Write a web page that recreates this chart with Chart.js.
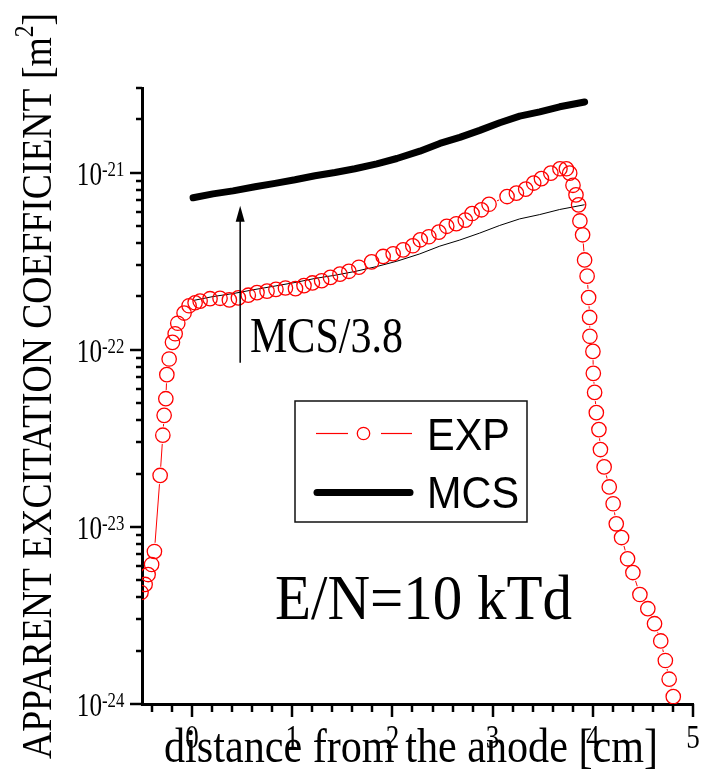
<!DOCTYPE html>
<html>
<head>
<meta charset="utf-8">
<script src="https://cdn.jsdelivr.net/npm/chart.js@4.4.0/dist/chart.umd.min.js"></script>
<style>
  html, body { margin: 0; padding: 0; background: #fff; }
</style>
</head>
<body>
<canvas id="canvas" width="719" height="781"></canvas>
<script>
// measured excitation coefficient (EXP), distance in cm, coefficient in m^2
const expX = [-0.51, -0.469, -0.439, -0.404, -0.376, -0.319, -0.292, -0.279, -0.262, -0.252,
  -0.229, -0.196, -0.169, -0.143, -0.080, -0.030, 0.030, 0.080, 0.179, 0.279,
  0.372, 0.462, 0.561, 0.648, 0.748, 0.837, 0.932, 1.032, 1.117, 1.201,
  1.293, 1.381, 1.476, 1.565, 1.665, 1.792, 1.907, 2.007, 2.107, 2.203,
  2.278, 2.363, 2.463, 2.542, 2.637, 2.727, 2.795, 2.888, 2.964, 3.144,
  3.237, 3.330, 3.410, 3.487, 3.581, 3.672, 3.736, 3.769, 3.802, 3.832,
  3.858, 3.871, 3.898, 3.918, 3.943, 3.958, 3.968, 3.971, 4.001, 4.005,
  4.018, 4.035, 4.061, 4.076, 4.113, 4.164, 4.203, 4.234, 4.287, 4.347,
  4.400, 4.470, 4.549, 4.616, 4.678, 4.724, 4.762, 4.803];
const expY = [4.26e-24, 4.73e-24, 5.38e-24, 6.13e-24, 7.26e-24, 1.95e-23, 3.29e-23, 4.26e-23, 5.29e-23, 7.23e-23,
  8.86e-23, 1.10e-22, 1.23e-22, 1.41e-22, 1.61e-22, 1.77e-22, 1.84e-22, 1.88e-22, 1.94e-22, 1.95e-22,
  1.91e-22, 1.96e-22, 2.03e-22, 2.10e-22, 2.14e-22, 2.19e-22, 2.23e-22, 2.21e-22, 2.30e-22, 2.38e-22,
  2.45e-22, 2.56e-22, 2.67e-22, 2.77e-22, 2.92e-22, 3.13e-22, 3.36e-22, 3.48e-22, 3.66e-22, 3.86e-22,
  4.17e-22, 4.34e-22, 4.61e-22, 4.97e-22, 5.14e-22, 5.39e-22, 5.87e-22, 6.16e-22, 6.62e-22, 7.32e-22,
  7.65e-22, 8.06e-22, 8.72e-22, 9.24e-22, 9.92e-22, 1.05e-21, 1.05e-21, 9.92e-22, 8.47e-22, 7.48e-22,
  6.57e-22, 5.33e-22, 4.45e-22, 3.21e-22, 2.60e-22, 1.97e-22, 1.52e-22, 1.19e-22, 9.78e-23, 7.35e-23,
  5.74e-23, 4.41e-23, 3.54e-23, 2.73e-23, 2.18e-23, 1.68e-23, 1.35e-23, 1.04e-23, 8.70e-24, 6.60e-24,
  5.52e-24, 4.15e-24, 3.45e-24, 2.84e-24, 2.27e-24, 1.76e-24, 1.38e-24, 1.10e-24];

// Monte Carlo simulation (MCS)
const mcsX = [0.01, 0.209, 0.409, 0.628, 0.828, 1.027, 1.227, 1.426, 1.625, 1.844,
  2.044, 2.273, 2.473, 2.672, 2.871, 3.071, 3.270, 3.470, 3.669, 3.918];
const mcsY = [7.20e-22, 7.58e-22, 7.88e-22, 8.31e-22, 8.69e-22, 9.10e-22, 9.59e-22, 1.00e-21, 1.05e-21, 1.12e-21,
  1.20e-21, 1.32e-21, 1.46e-21, 1.58e-21, 1.73e-21, 1.91e-21, 2.08e-21, 2.20e-21, 2.35e-21, 2.50e-21];
const mcsDivisor = 3.8;

// axis ticks
const xTickLabels = ["0", "1", "2", "3", "4", "5"];
const yDecades = [-24, -23, -22, -21];

// arrow from the scaled curve up to the MCS curve
const arrowX = 0.48;
const arrowFrom = 8.45e-23;
const arrowTo = 6.49e-22;

const SERIF = '"Liberation Serif", "Times New Roman", serif';
const SANS = '"Liberation Sans", Arial, sans-serif';
const RED = '#ff0000';
const PT_R = 7.2;

// text drawn to a fixed width (the lettering of the plot is narrow)
function fitText(ctx, text, x, y, font, width, align) {
  ctx.save();
  ctx.font = font;
  const w = ctx.measureText(text).width;
  ctx.translate(x, y);
  ctx.scale(width / w, 1);
  ctx.textAlign = align || 'left';
  ctx.textBaseline = 'alphabetic';
  ctx.fillText(text, 0, 0);
  ctx.restore();
}

function squeezed(ctx, text, x, y, font, sx, align) {
  ctx.save();
  ctx.font = font;
  ctx.translate(x, y);
  ctx.scale(sx, 1);
  ctx.textAlign = align || 'left';
  ctx.textBaseline = 'alphabetic';
  ctx.fillText(text, 0, 0);
  ctx.restore();
}

function line(ctx, x1, y1, x2, y2) {
  ctx.beginPath();
  ctx.moveTo(x1, y1);
  ctx.lineTo(x2, y2);
  ctx.stroke();
}

const decor = {
  id: 'decor',
  // EXP connecting line, broken at each marker
  beforeDatasetsDraw(chart) {
    const ctx = chart.ctx;
    const pts = chart.getDatasetMeta(0).data;
    ctx.save();
    ctx.strokeStyle = RED;
    ctx.lineWidth = 1;
    for (let i = 1; i < pts.length; i++) {
      const a = pts[i - 1], b = pts[i];
      const dx = b.x - a.x, dy = b.y - a.y;
      const d = Math.hypot(dx, dy);
      const gap = PT_R + 1.5;
      if (d <= 2 * gap) continue;
      const ux = dx / d, uy = dy / d;
      line(ctx, a.x + ux * gap, a.y + uy * gap, b.x - ux * gap, b.y - uy * gap);
    }
    ctx.restore();
  },
  afterDraw(chart) {
    const ctx = chart.ctx;
    const xs = chart.scales.x, ys = chart.scales.y;
    const area = chart.chartArea;
    ctx.save();
    ctx.fillStyle = '#000';
    ctx.strokeStyle = '#000';

    // y ticks (outside, decades long)
    ctx.lineWidth = 2.5;
    yDecades.forEach(e => {
      for (let m = 1; m <= 9; m++) {
        const v = m * Math.pow(10, e);
        if (v > ys.max * 1.0001) break;
        const py = Math.round(ys.getPixelForValue(v));
        const len = m === 1 ? 12 : 6;
        line(ctx, area.left - len, py, area.left, py);
      }
    });
    // x ticks every 0.2
    for (let i = -2; i <= 25; i++) {
      const px = Math.round(xs.getPixelForValue(i / 5));
      const len = i % 5 === 0 ? 13 : 8;
      line(ctx, px, area.bottom, px, area.bottom + len);
    }

    // y tick labels 10^n
    yDecades.forEach(e => {
      const py = ys.getPixelForValue(Math.pow(10, e));
      squeezed(ctx, '10', 102, py + 12, '34px ' + SERIF, 0.74, 'right');
      squeezed(ctx, String(e), 102, py + 3, '21px ' + SERIF, 0.8, 'left');
    });
    // x tick labels
    xTickLabels.forEach(t => {
      const px = xs.getPixelForValue(Number(t));
      squeezed(ctx, t, px, 748, '33px ' + SERIF, 0.82, 'center');
    });

    // x title
    fitText(ctx, 'distance from the anode [cm]', 164, 762, '48px ' + SERIF, 494);

    // y title, rotated, with superscript
    ctx.save();
    ctx.translate(51, 759);
    ctx.rotate(-Math.PI / 2);
    const mainT = 'APPARENT EXCITATION COEFFICIENT [m';
    ctx.font = '43px ' + SERIF;
    const w1 = ctx.measureText(mainT).width;
    const w3 = ctx.measureText(']').width;
    ctx.font = '27px ' + SERIF;
    const w2 = ctx.measureText('2').width;
    ctx.scale(746 / (w1 + w2 + w3), 1);
    ctx.textBaseline = 'alphabetic';
    ctx.textAlign = 'left';
    ctx.font = '43px ' + SERIF;
    ctx.fillText(mainT, 0, 0);
    ctx.font = '27px ' + SERIF;
    ctx.fillText('2', w1, -18);
    ctx.font = '43px ' + SERIF;
    ctx.fillText(']', w1 + w2, 0);
    ctx.restore();

    // arrow
    const ax = xs.getPixelForValue(arrowX);
    const ay0 = ys.getPixelForValue(arrowFrom);
    const ay1 = ys.getPixelForValue(arrowTo);
    ctx.lineWidth = 1.5;
    line(ctx, ax, ay0, ax, ay1 + 12);
    ctx.beginPath();
    ctx.moveTo(ax, ay1);
    ctx.lineTo(ax - 4.5, ay1 + 16);
    ctx.lineTo(ax + 4.5, ay1 + 16);
    ctx.closePath();
    ctx.fill();

    // annotations
    fitText(ctx, 'MCS/3.8', 250, 352, '50px ' + SERIF, 153);
    fitText(ctx, 'E/N=10 kTd', 275, 619, '64px ' + SERIF, 297);

    // legend
    ctx.lineWidth = 1.5;
    ctx.strokeStyle = '#111';
    ctx.strokeRect(295, 401, 232, 121);
    ctx.strokeStyle = RED;
    ctx.lineWidth = 1.2;
    line(ctx, 316, 433.5, 348, 433.5);
    line(ctx, 381, 433.5, 412, 433.5);
    ctx.lineWidth = 1.3;
    ctx.beginPath();
    ctx.arc(363.5, 433.5, 6.2, 0, Math.PI * 2);
    ctx.stroke();
    ctx.strokeStyle = '#000';
    ctx.lineWidth = 7;
    ctx.lineCap = 'round';
    line(ctx, 317, 492.5, 410, 492.5);
    fitText(ctx, 'EXP', 427, 450, '45px ' + SANS, 83);
    fitText(ctx, 'MCS', 427, 508, '45px ' + SANS, 92);

    ctx.restore();
  }
};

const config = {
  type: 'line',
  data: {
    datasets: [
      {
        label: 'EXP',
        data: expX.map((x, i) => ({ x: x, y: expY[i] })),
        showLine: false,
        pointStyle: 'circle',
        pointRadius: PT_R,
        pointBorderWidth: 1.3,
        pointBorderColor: RED,
        pointBackgroundColor: 'rgba(0,0,0,0)',
      },
      {
        label: 'MCS',
        data: mcsX.map((x, i) => ({ x: x, y: mcsY[i] })),
        borderColor: '#000',
        borderWidth: 7,
        borderCapStyle: 'round',
        borderJoinStyle: 'round',
        pointRadius: 0,
      },
      {
        label: 'MCS/3.8',
        data: mcsX.map((x, i) => ({ x: x, y: mcsY[i] / mcsDivisor })),
        borderColor: '#000',
        borderWidth: 1,
        pointRadius: 0,
      },
    ],
  },
  options: {
    responsive: false,
    animation: false,
    devicePixelRatio: 1,
    layout: { padding: { left: 142, right: 26, top: 88, bottom: 77 } },
    plugins: {
      legend: { display: false },
      tooltip: { enabled: false },
    },
    scales: {
      x: {
        type: 'linear',
        min: -0.5,
        max: 5,
        ticks: { display: false },
        grid: { display: false, drawTicks: false },
        border: { display: true, color: '#000', width: 3 },
      },
      y: {
        type: 'logarithmic',
        min: 1e-24,
        max: 3e-21,
        ticks: { display: false },
        grid: { display: false, drawTicks: false },
        border: { display: true, color: '#000', width: 3 },
      },
    },
  },
  plugins: [decor],
};

const canvas = document.getElementById('canvas');
const chart = new Chart(canvas, config);
</script>
</body>
</html>
